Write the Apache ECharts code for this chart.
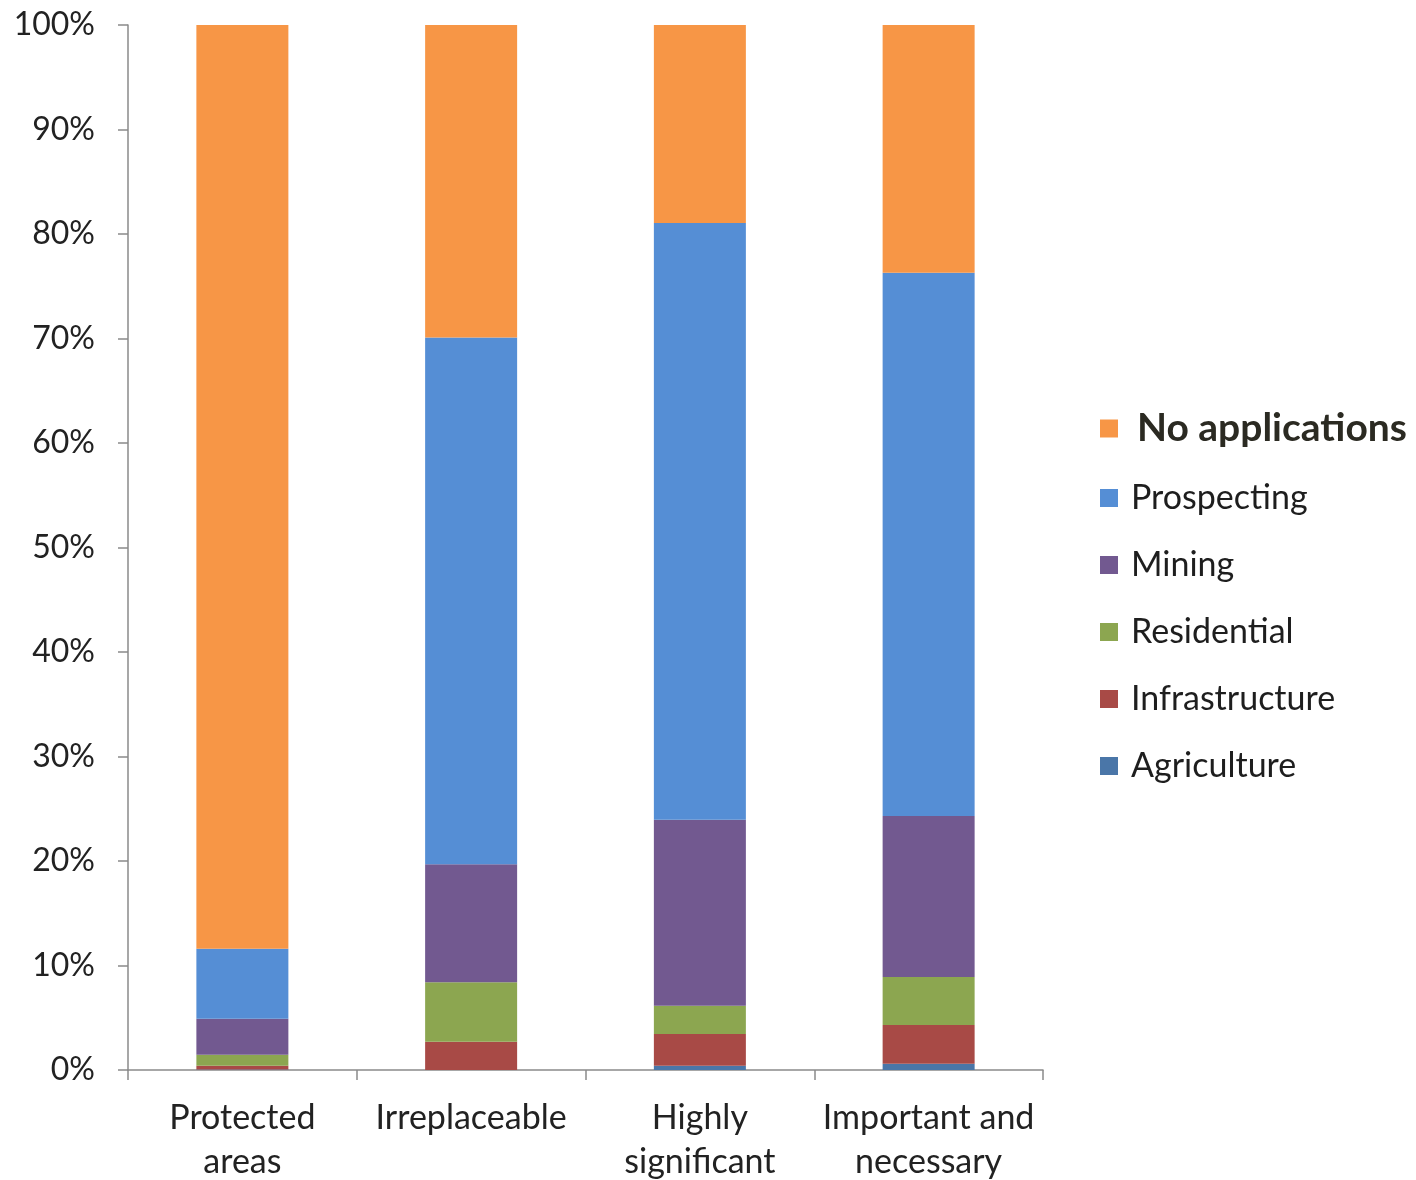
<!DOCTYPE html>
<html>
<head>
<meta charset="utf-8">
<script src="https://cdn.jsdelivr.net/npm/echarts@6/dist/echarts.min.js"></script>
<style>
  html, body { margin: 0; padding: 0; background: #fff; }
  #chart { width: 1416px; height: 1180px; }
</style>
</head>
<body>
<div id="chart"></div>
<script>
// Share of each land class by application type (percent)
const categories = ['Protected\nareas', 'Irreplaceable', 'Highly\nsignificant', 'Important and\nnecessary'];
const agriculture    = [0.05, 0.0, 0.4, 0.6];
const infrastructure = [0.35, 2.7, 3.05, 3.7];
const residential    = [1.05, 5.7, 2.7, 4.6];
const mining         = [3.45, 11.3, 17.8, 15.4];
const prospecting    = [6.7, 50.4, 57.1, 52.0];
const noApplications = [88.4, 29.9, 19.0, 23.7];
const yTicks = [0, 10, 20, 30, 40, 50, 60, 70, 80, 90, 100];

const FONT = 'Lato, "Open Sans", sans-serif';
const colors = {
  'Agriculture': '#4A76A8',
  'Infrastructure': '#A84A46',
  'Residential': '#8CA650',
  'Mining': '#725990',
  'Prospecting': '#558ED5',
  'No applications': '#F79646'
};
const seriesData = [
  ['Agriculture', agriculture],
  ['Infrastructure', infrastructure],
  ['Residential', residential],
  ['Mining', mining],
  ['Prospecting', prospecting],
  ['No applications', noApplications]
];

const chart = echarts.init(document.getElementById('chart'));
chart.setOption({
  animation: false,
  backgroundColor: '#fff',
  grid: { left: 128, right: 373, top: 25, bottom: 110, containLabel: false, outerBoundsMode: 'none' },
  xAxis: {
    type: 'category',
    data: categories,
    axisLine: { lineStyle: { color: '#8a8a8a', width: 1.5 } },
    axisTick: { show: true, interval: 0, length: 10, lineStyle: { color: '#8a8a8a', width: 1.5 } },
    axisLabel: {
      interval: 0,
      color: '#222', fontFamily: FONT, fontSize: 34, lineHeight: 44, margin: 26
    }
  },
  yAxis: {
    type: 'value',
    min: 0, max: 100, interval: 10,
    axisLine: { show: true, lineStyle: { color: '#8a8a8a', width: 1.5 } },
    axisTick: { show: true, length: 10, inside: false, lineStyle: { color: '#8a8a8a', width: 1.5 } },
    splitLine: { show: false },
    axisLabel: {
      color: '#222', fontFamily: FONT, fontSize: 32, margin: 33,
      formatter: v => (yTicks.includes(v) ? v + '%' : '')
    }
  },
  legend: {
    orient: 'vertical',
    left: 1095, top: 404,
    itemWidth: 18, itemHeight: 18, itemGap: 33,
    icon: 'rect',
    textStyle: { color: '#1e1e1e', fontFamily: FONT, fontSize: 34, padding: [0, 0, 0, 8] },
    data: [
      { name: 'No applications', textStyle: { fontSize: 39, fontWeight: 'bold', color: '#2b2a22', padding: [0, 0, 0, 14] } },
      { name: 'Prospecting' },
      { name: 'Mining' },
      { name: 'Residential' },
      { name: 'Infrastructure' },
      { name: 'Agriculture' }
    ]
  },
  series: seriesData.map(([name, values]) => ({
    name,
    type: 'bar',
    stack: 'total',
    barWidth: 92,
    itemStyle: { color: colors[name] },
    data: values
  }))
});
</script>
</body>
</html>
